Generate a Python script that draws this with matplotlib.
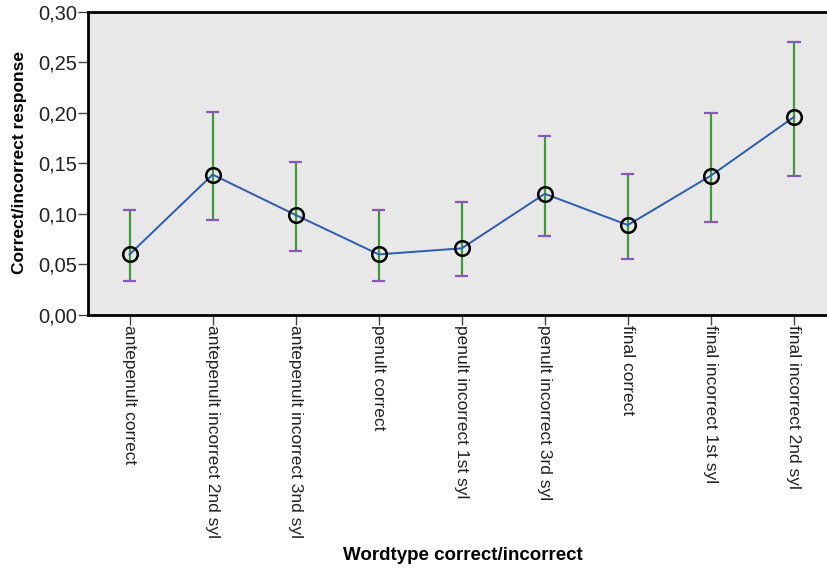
import numpy as np
import matplotlib
matplotlib.use("Agg")
import matplotlib.pyplot as plt
from matplotlib.ticker import FuncFormatter

plt.rcParams['font.family'] = ['Liberation Sans', 'DejaVu Sans']

# word types and mean response with 95% CI
categories = ["antepenult correct", "antepenult incorrect 2nd syl",
              "antepenult incorrect 3nd syl", "penult correct",
              "penult incorrect 1st syl", "penult incorrect 3rd syl",
              "final correct", "final incorrect 1st syl", "final incorrect 2nd syl"]
means = [0.060, 0.139, 0.099, 0.060, 0.066, 0.120, 0.089, 0.138, 0.196]
ci_upper = [0.104, 0.201, 0.151, 0.104, 0.112, 0.177, 0.140, 0.200, 0.270]
ci_lower = [0.034, 0.094, 0.063, 0.034, 0.039, 0.078, 0.055, 0.092, 0.138]

x = np.arange(len(categories))
means = np.array(means)
yerr = [means - np.array(ci_lower), np.array(ci_upper) - means]

fig = plt.figure(figsize=(8.28, 5.69), dpi=100)
ax = fig.add_axes([0.1063, 0.4464, 0.8937, 0.5326])
ax.set_facecolor('#e8e8e8')

# error bars: green stems, purple caps
ax.errorbar(x, means, yerr=yerr, fmt='none', ecolor='#3f9a3a', elinewidth=1.6,
            capsize=0, zorder=2)
ax.hlines(ci_upper, x - 0.08, x + 0.08, colors='#8a55c0', linewidth=1.6, zorder=2)
ax.hlines(ci_lower, x - 0.08, x + 0.08, colors='#8a55c0', linewidth=1.6, zorder=2)

ax.plot(x, means, color='#2a5db0', linewidth=1.4, zorder=3)
ax.plot(x, means, 'o', markersize=10.5, markerfacecolor='none',
        markeredgecolor='black', markeredgewidth=1.8, zorder=4)

ax.set_xlim(-0.5, 8.41)
ax.set_ylim(0, 0.30)
ax.set_yticks(np.arange(0, 0.31, 0.05))
ax.yaxis.set_major_formatter(FuncFormatter(lambda v, p: f"{v:.2f}".replace('.', ',')))
ax.set_xticks(x)
ax.set_xticklabels(categories, rotation=270, ha='center', va='top')

for s in ax.spines.values():
    s.set_linewidth(2)
ax.tick_params(axis='both', direction='out', length=7, width=1,
               colors='#444444', labelcolor='#222222')
ax.tick_params(axis='x', labelsize=12.5, pad=0)
ax.tick_params(axis='y', labelsize=14.5, pad=1)

fig.text(463 / 828, 1 - 555 / 569, "Wordtype correct/incorrect", fontsize=13.5,
         fontweight='bold', ha='center', va='center')
fig.text(20 / 828, 1 - 163 / 569, "Correct/incorrect response", fontsize=12.5,
         fontweight='bold', ha='center', va='center', rotation=90)

fig.savefig("out.png", dpi=100)
